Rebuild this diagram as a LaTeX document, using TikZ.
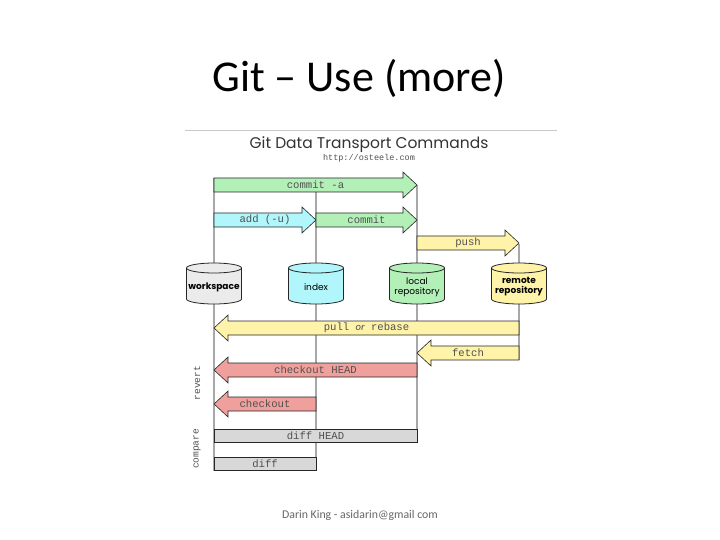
\documentclass[tikz,border=0pt]{standalone}
\usepackage{fontspec}
\setmainfont{Carlito}
\setmonofont{Liberation Mono}
\newfontfamily\geofont{Poppins}
\usetikzlibrary{calc}

\definecolor{lifegray}{HTML}{A8A8A8}
\definecolor{rulegray}{HTML}{C8C8C8}
\definecolor{txtgray}{HTML}{505050}
\definecolor{wsfill}{HTML}{EBEBEB}
\definecolor{ixfill}{HTML}{B0F6FA}
\definecolor{lrfill}{HTML}{B3F0B8}
\definecolor{rrfill}{HTML}{FEF3A8}
\definecolor{redfill}{HTML}{F0A09C}
\definecolor{grayfill}{HTML}{D8D8D8}

\tikzset{
  lifeline/.style={draw=lifegray, line width=2pt},
  fatbody/.style={draw=black!85, line width=0.6pt},
  cmdlabel/.style={font=\ttfamily\fontsize{10.6}{12}\selectfont, text=txtgray, inner sep=0pt},
  repolabel/.style={font=\geofont\fontsize{9}{10}\selectfont, align=center, inner sep=0pt},
  sidelabel/.style={font=\ttfamily\fontsize{9.5}{12}\selectfont, text=txtgray, rotate=90, inner sep=0pt}
}

% fat arrow pointing right: name, from x, to x, row y, fill, label
\newcommand\cmdright[6]{%
  \draw[fatbody, fill=#5] (#2,#4-7) -- (#3-14,#4-7) -- (#3-14,#4-13) -- (#3,#4)
    -- (#3-14,#4+13) -- (#3-14,#4+7) -- (#2,#4+7) -- cycle;
  \node[cmdlabel] (#1) at ({(#2+#3)/2},#4) {#6};}
% fat arrow pointing left: name, tip x, tail x, row y, fill, label
\newcommand\cmdleft[6]{%
  \draw[fatbody, fill=#5] (#3,#4-7) -- (#2+14,#4-7) -- (#2+14,#4-13) -- (#2,#4)
    -- (#2+14,#4+13) -- (#2+14,#4+7) -- (#3,#4+7) -- cycle;
  \node[cmdlabel] (#1) at ({(#2+#3)/2},#4) {#6};}
% plain bar: name, from x, to x, row y, label
\newcommand\cmdbar[5]{%
  \draw[fatbody, fill=grayfill] (#2,#4-6.5) rectangle (#3,#4+6.5);
  \node[cmdlabel] (#1) at ({(#2+#3)/2},#4) {#5};}
% repository drum: name, x, fill, label
\newcommand\repodrum[4]{%
  \draw[fatbody, line width=0.8pt, fill=#3] (#2-27.5,268) -- (#2-27.5,299)
    arc[start angle=180, end angle=0, x radius=27.5, y radius=5]
    -- (#2+27.5,268) arc[start angle=0, end angle=-180, x radius=27.5, y radius=5] -- cycle;
  \draw[fatbody, line width=0.8pt] (#2-27.5,268)
    arc[start angle=180, end angle=0, x radius=27.5, y radius=5];
  \node[repolabel] (#1) at (#2,287) {#4};}

\begin{document}
\begin{tikzpicture}[x=1pt, y=-1pt]
\useasboundingbox[fill=white] (0,0) rectangle (720,540);

\node (title) at (359,78) {\fontsize{44}{52}\selectfont Git – Use (more)};
\draw[rulegray, line width=1pt] (185,131) -- (557,131);
\node[text=black!80] (heading) at (369,145) {\geofont\fontsize{15.5}{18}\selectfont Git Data Transport Commands};
\node[text=txtgray, inner sep=0pt] (url) at (369,158) {\ttfamily\fontsize{8.5}{10}\selectfont http://osteele.com};

% life lines
\coordinate (wsTop) at (214,178);
\coordinate (wsEnd) at (214,471);
\coordinate (ixTop) at (316,192);
\coordinate (ixEnd) at (316,471);
\coordinate (lrTop) at (417,185);
\coordinate (lrEnd) at (417,442);
\coordinate (rrTop) at (519,244);
\coordinate (rrEnd) at (519,360);
\draw[lifeline] (wsTop) -- (wsEnd);
\draw[lifeline] (ixTop) -- (ixEnd);
\draw[lifeline] (lrTop) -- (lrEnd);
\draw[lifeline] (rrTop) -- (rrEnd);

% repositories
\repodrum{ws}{214}{wsfill}{\bfseries workspace}
\repodrum{ix}{316}{ixfill}{index}
\repodrum{lr}{417}{lrfill}{local\\repository}
\repodrum{rr}{519}{rrfill}{\bfseries remote\\\bfseries repository}

% commands
\cmdright{commitall}{214}{417}{185}{lrfill}{commit -a}
\cmdright{add}{214}{316}{220}{ixfill}{add (-u)}
\cmdright{commit}{316}{417}{220}{lrfill}{commit}
\cmdright{push}{417}{519}{243}{rrfill}{push}
\cmdleft{pull}{214}{519}{328}{rrfill}{pull {\rmfamily\itshape or} rebase}
\cmdleft{fetch}{417}{519}{353}{rrfill}{fetch}
\cmdleft{checkouthead}{214}{417}{370}{redfill}{checkout HEAD}
\cmdleft{checkout}{214}{316}{404}{redfill}{checkout}
\cmdbar{diffhead}{214}{417}{436}{diff HEAD}
\cmdbar{diff}{214}{316}{464}{diff}

\node[sidelabel] (revert) at (197,383) {revert};
\node[sidelabel] (compare) at (197,449) {compare};

\node[text=black!60] (footer) at (360,515) {\fontsize{11.8}{14}\selectfont Darin King - asidarin@gmail com};
\end{tikzpicture}
\end{document}
